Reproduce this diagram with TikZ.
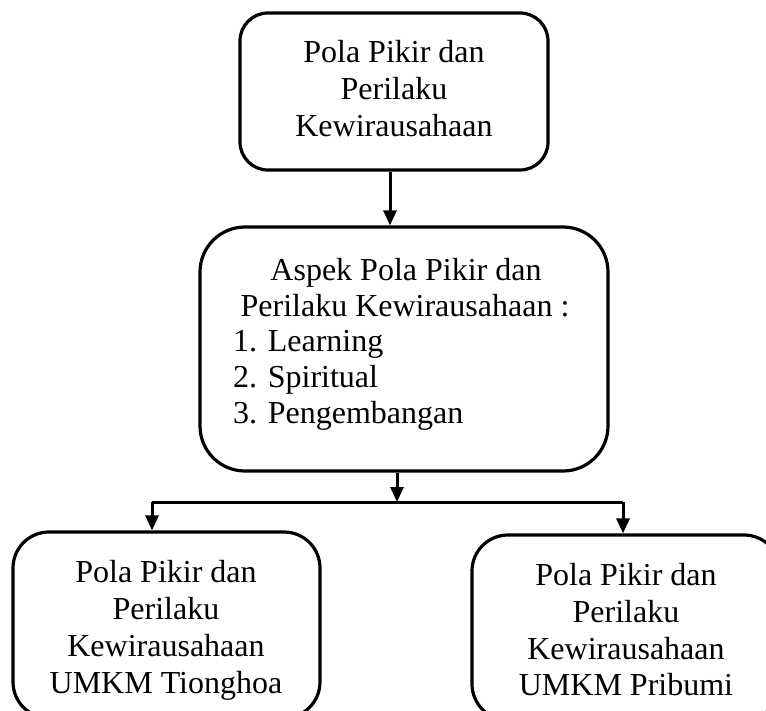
\documentclass[tikz,border=0pt]{standalone}
\usepackage{fontspec}
\setmainfont{Liberation Serif}
\usetikzlibrary{arrows.meta}
\tikzset{
  box/.style={draw, line width=3.2pt, inner sep=0pt, fill=none},
  txt/.style={anchor=base, inner sep=0pt, font=\fontsize{32}{37}\selectfont},
  ltxt/.style={anchor=base west, inner sep=0pt, font=\fontsize{32}{37}\selectfont},
  conn/.style={line width=3pt},
  arr/.style={line width=3pt, -{Triangle[length=15pt,width=13pt]}}
}
\begin{document}
\begin{tikzpicture}[x=1pt,y=-1pt]
\useasboundingbox (0,0) rectangle (766,711);
\clip (0,0) rectangle (766,711);
\fill[white] (0,0) rectangle (766,711);
% boxes
\node[box, rounded corners=28pt, minimum width=308pt, minimum height=157pt] (top) at (394,91.5) {};
\node[box, rounded corners=45pt, minimum width=408pt, minimum height=244pt] (mid) at (404,349) {};
\node[box, rounded corners=36pt, minimum width=307pt, minimum height=186pt] (left) at (166.5,625) {};
\node[box, rounded corners=36pt, minimum width=308pt, minimum height=185pt] (right) at (626,627.5) {};
% top text
\node[txt] (t1) at (394,63) {Pola Pikir dan};
\node[txt] (t2) at (394,100) {Perilaku};
\node[txt] (t3) at (394,137) {Kewirausahaan};
% middle text
\node[txt] (m1) at (406,281) {Aspek Pola Pikir dan};
\node[txt] (m2) at (405,317) {Perilaku Kewirausahaan :};
\node[ltxt] (m3) at (233,352) {1. Learning};
\node[ltxt] (m4) at (233,387.5) {2. Spiritual};
\node[ltxt] (m5) at (233,423) {3. Pengembangan};
% left text
\node[txt] (l1) at (166,582) {Pola Pikir dan};
\node[txt] (l2) at (166,619) {Perilaku};
\node[txt] (l3) at (166,656) {Kewirausahaan};
\node[txt] (l4) at (166,693) {UMKM Tionghoa};
% right text
\node[txt] (r1) at (626,585) {Pola Pikir dan};
\node[txt] (r2) at (626,622) {Perilaku};
\node[txt] (r3) at (626,659) {Kewirausahaan};
\node[txt] (r4) at (626,695) {UMKM Pribumi};
% connectors
\coordinate (a) at (390,0);
\draw[arr] (top.south -| a) -- (mid.north -| a);
\coordinate (j) at (397,502);
\coordinate (jl) at (152,502);
\coordinate (jr) at (623,502);
\draw[arr] (mid.south -| j) -- (j);
\draw[conn] (jl) -- (jr);
\draw[arr] (jl) -- (jl |- left.north);
\draw[arr] (jr) -- (jr |- right.north);
\end{tikzpicture}
\end{document}
